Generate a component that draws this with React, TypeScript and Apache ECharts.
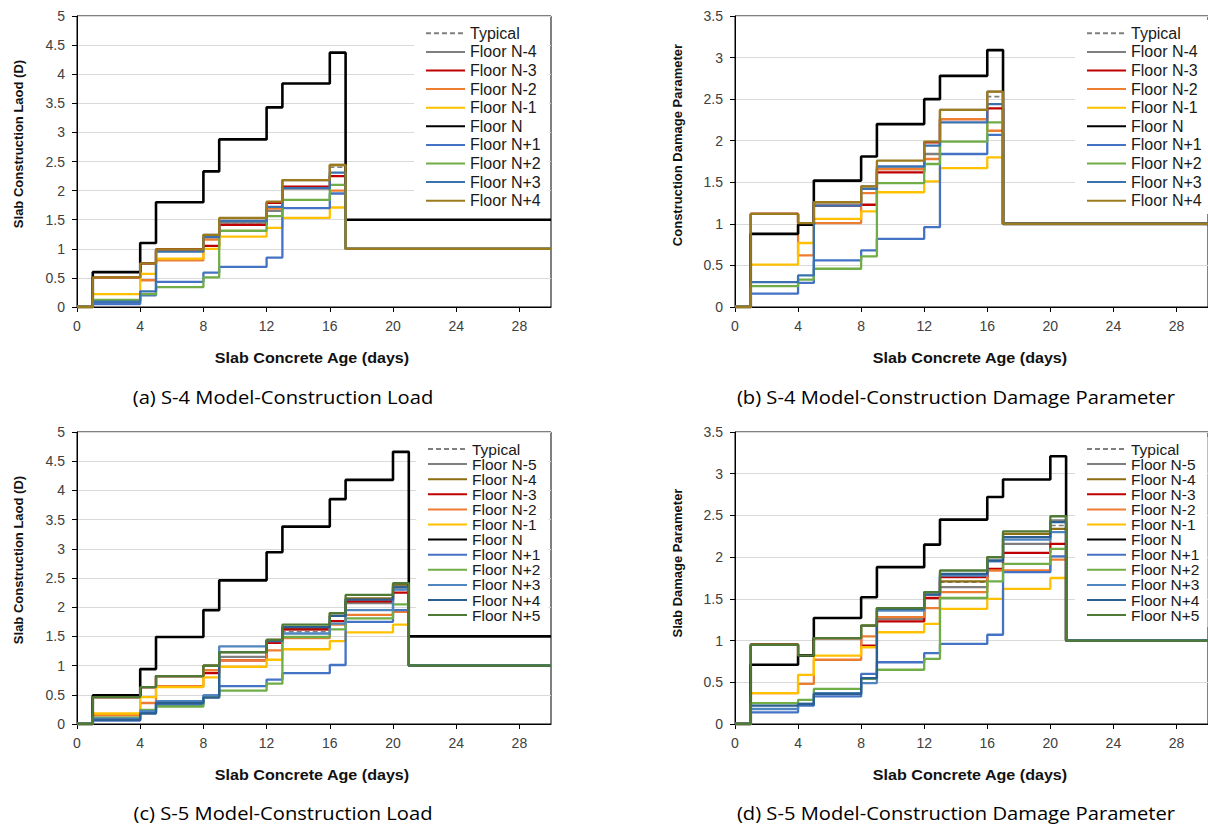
import React, { useEffect, useRef } from "react";
import * as echarts from "echarts";

// ---------- data ----------
const DAYS_S4 = [0, 1, 4, 5, 8, 9, 12, 13, 16, 17, 30];
const DAYS_S5 = [0, 1, 4, 5, 8, 9, 12, 13, 16, 17, 20, 21, 30];
const X_TICKS = [0, 4, 8, 12, 16, 20, 24, 28];

// (a) S-4 construction load
const A_NAMES = ["Typical", "Floor N-4", "Floor N-3", "Floor N-2", "Floor N-1", "Floor N", "Floor N+1", "Floor N+2", "Floor N+3", "Floor N+4"];
const A_TYPICAL = [0, 0.51, 0.75, 0.99, 1.24, 1.45, 1.65, 2.18, 2.4, 1, 1];
const A_N_M4 = [0, 0.51, 0.75, 0.99, 1.24, 1.45, 1.65, 2.18, 2.44, 1, 1];
const A_N_M3 = [0, 0.51, 0.75, 0.99, 1.05, 1.41, 1.79, 2.07, 2.25, 1, 1];
const A_N_M2 = [0, 0.51, 0.46, 0.8, 1.16, 1.48, 1.69, 2.04, 2.0, 1, 1];
const A_N_M1 = [0, 0.22, 0.57, 0.83, 1.0, 1.21, 1.36, 1.53, 1.71, 1, 1];
const A_N = [0, 0.6, 1.1, 1.8, 2.33, 2.88, 3.43, 3.84, 4.37, 1.5, 1.5];
const A_N_P1 = [0, 0.05, 0.2, 0.43, 0.59, 0.69, 0.85, 1.7, 1.95, 1, 1];
const A_N_P2 = [0, 0.12, 0.22, 0.34, 0.51, 1.31, 1.56, 1.84, 2.1, 1, 1];
const A_N_P3 = [0, 0.09, 0.27, 0.95, 1.2, 1.48, 1.72, 2.04, 2.31, 1, 1];
const A_N_P4 = [0, 0.51, 0.75, 0.99, 1.24, 1.53, 1.81, 2.18, 2.44, 1, 1];

// (b) S-4 damage parameter
const B_TYPICAL = [0, 1.12, 1.01, 1.26, 1.45, 1.66, 1.84, 2.37, 2.53, 1, 1];
const B_N_M4 = [0, 1.12, 1.01, 1.26, 1.45, 1.66, 1.84, 2.37, 2.59, 1, 1];
const B_N_M3 = [0, 1.12, 1.01, 1.22, 1.23, 1.62, 1.98, 2.26, 2.39, 1, 1];
const B_N_M2 = [0, 1.12, 0.62, 1.01, 1.37, 1.66, 1.78, 2.26, 2.12, 1, 1];
const B_N_M1 = [0, 0.51, 0.77, 1.06, 1.15, 1.38, 1.51, 1.67, 1.8, 1, 1];
const B_N = [0, 0.88, 0.99, 1.52, 1.81, 2.2, 2.5, 2.78, 3.09, 1, 1];
const B_N_P1 = [0, 0.16, 0.29, 0.56, 0.68, 0.82, 0.96, 1.84, 2.07, 1, 1];
const B_N_P2 = [0, 0.25, 0.33, 0.46, 0.61, 1.49, 1.72, 1.99, 2.22, 1, 1];
const B_N_P3 = [0, 0.3, 0.38, 1.22, 1.42, 1.69, 1.94, 2.22, 2.44, 1, 1];
const B_N_P4 = [0, 1.12, 1.01, 1.26, 1.45, 1.76, 1.99, 2.37, 2.59, 1, 1];

// (c) S-5 construction load
const C_NAMES = ["Typical", "Floor N-5", "Floor N-4", "Floor N-3", "Floor N-2", "Floor N-1", "Floor N", "Floor N+1", "Floor N+2", "Floor N+3", "Floor N+4", "Floor N+5"];
const C_TYPICAL = [0, 0.46, 0.63, 0.82, 1.0, 1.15, 1.44, 1.58, 1.85, 2.07, 2.3, 1, 1];
const C_N_M5 = [0, 0.46, 0.63, 0.82, 1.0, 1.15, 1.44, 1.62, 1.85, 2.07, 2.36, 1, 1];
const C_N_M4 = [0, 0.46, 0.63, 0.82, 1.0, 1.23, 1.44, 1.64, 1.9, 2.15, 2.39, 1, 1];
const C_N_M3 = [0, 0.46, 0.63, 0.82, 0.87, 1.09, 1.39, 1.62, 1.76, 2.1, 2.25, 1, 1];
const C_N_M2 = [0, 0.15, 0.36, 0.65, 0.92, 1.09, 1.26, 1.47, 1.7, 1.87, 1.92, 1, 1];
const C_N_M1 = [0, 0.18, 0.46, 0.63, 0.8, 0.98, 1.1, 1.28, 1.42, 1.57, 1.7, 1, 1];
const C_N = [0, 0.49, 0.94, 1.49, 1.95, 2.46, 2.94, 3.38, 3.85, 4.18, 4.66, 1.5, 1.5];
const C_N_P1 = [0, 0.06, 0.2, 0.33, 0.49, 0.65, 0.76, 0.87, 1.01, 1.75, 1.95, 1, 1];
const C_N_P2 = [0, 0.11, 0.24, 0.3, 0.46, 0.57, 0.69, 1.49, 1.62, 1.81, 2.05, 1, 1];
const C_N_P3 = [0, 0.09, 0.22, 0.39, 0.49, 1.33, 1.42, 1.55, 1.72, 1.95, 2.3, 1, 1];
const C_N_P4 = [0, 0.07, 0.18, 0.36, 0.45, 1.23, 1.43, 1.66, 1.85, 2.13, 2.34, 1, 1];
const C_N_P5 = [0, 0.46, 0.63, 0.82, 1.0, 1.23, 1.44, 1.7, 1.9, 2.21, 2.41, 1, 1];

// (d) S-5 damage parameter
const D_TYPICAL = [0, 0.95, 0.82, 1.03, 1.18, 1.26, 1.58, 1.7, 2.0, 2.16, 2.38, 1, 1];
const D_N_M5 = [0, 0.95, 0.82, 1.03, 1.18, 1.26, 1.58, 1.64, 2.0, 2.16, 2.44, 1, 1];
const D_N_M4 = [0, 0.95, 0.82, 1.03, 1.18, 1.39, 1.58, 1.71, 2.0, 2.28, 2.34, 1, 1];
const D_N_M3 = [0, 0.95, 0.82, 1.03, 0.94, 1.23, 1.51, 1.76, 1.86, 2.05, 2.16, 1, 1];
const D_N_M2 = [0, 0.37, 0.48, 0.77, 1.05, 1.28, 1.39, 1.58, 1.84, 1.84, 1.97, 1, 1];
const D_N_M1 = [0, 0.37, 0.59, 0.82, 0.92, 1.1, 1.2, 1.38, 1.5, 1.62, 1.75, 1, 1];
const D_N = [0, 0.71, 0.82, 1.27, 1.52, 1.88, 2.15, 2.45, 2.72, 2.93, 3.21, 1, 1];
const D_N_P1 = [0, 0.14, 0.22, 0.33, 0.6, 0.74, 0.85, 0.96, 1.07, 1.82, 2.01, 1, 1];
const D_N_P2 = [0, 0.25, 0.29, 0.42, 0.54, 0.65, 0.78, 1.51, 1.71, 1.92, 2.1, 1, 1];
const D_N_P3 = [0, 0.18, 0.24, 0.37, 0.49, 1.36, 1.55, 1.78, 1.95, 2.21, 2.3, 1, 1];
const D_N_P4 = [0, 0.22, 0.24, 0.36, 0.55, 1.38, 1.55, 1.8, 1.96, 2.24, 2.42, 1, 1];
const D_N_P5 = [0, 0.95, 0.82, 1.03, 1.18, 1.39, 1.58, 1.84, 2.0, 2.31, 2.49, 1, 1];

const CAPTIONS = [
  "(a) S-4 Model-Construction Load",
  "(b) S-4 Model-Construction Damage Parameter",
  "(c) S-5 Model-Construction Load",
  "(d) S-5 Model-Construction Damage Parameter",
];
const Y_TITLES = ["Slab Construction Laod (D)", "Construction Damage Parameter", "Slab Construction Laod (D)", "Slab Damage Parameter"];
const X_TITLE = "Slab Concrete Age (days)";

// ---------- styles ----------
const GRAY = "#7F7F7F";
const RED = "#C00000";
const ORANGE = "#ED7D31";
const YELLOW = "#FFC000";
const BLACK = "#000000";
const BLUE1 = "#4472C4";
const GREEN = "#70AD47";
const STEEL = "#3A72B0";
const GOLD = "#9C7A1E";
const OLIVE = "#8C6D12";
const STEEL_C = "#4F86C0";
const NAVY = "#2B5F91";
const DKGREEN = "#4F7A35";

const A_COLORS = [GRAY, GRAY, RED, ORANGE, YELLOW, BLACK, BLUE1, GREEN, STEEL, GOLD];
const C_COLORS = [GRAY, GRAY, OLIVE, RED, ORANGE, YELLOW, BLACK, BLUE1, GREEN, STEEL_C, NAVY, DKGREEN];

const FONT = "Liberation Sans, Arial, sans-serif";

type Panel = {
  key: string;
  names: string[];
  colors: string[];
  days: number[];
  values: number[][];
  ymax: number;
  grid: { left: number; top: number; width: number; height: number };
  legend: { left: number; top: number; pitch: number; font: number; gap: number };
  caption: { x: number; y: number };
  ytitle: { x: number; y: number };
  xtitle: { x: number; y: number };
};

const PANELS: Panel[] = [
  {
    key: "a",
    names: A_NAMES,
    colors: A_COLORS,
    days: DAYS_S4,
    values: [A_TYPICAL, A_N_M4, A_N_M3, A_N_M2, A_N_M1, A_N, A_N_P1, A_N_P2, A_N_P3, A_N_P4],
    ymax: 5,
    grid: { left: 77, top: 16, width: 474, height: 291 },
    legend: { left: 414, top: 20, pitch: 18.6, font: 16, gap: 0 },
    caption: { x: 283, y: 397 },
    ytitle: { x: 18, y: 144 },
    xtitle: { x: 312, y: 358 },
  },
  {
    key: "b",
    names: A_NAMES,
    colors: A_COLORS,
    days: DAYS_S4,
    values: [B_TYPICAL, B_N_M4, B_N_M3, B_N_M2, B_N_M1, B_N, B_N_P1, B_N_P2, B_N_P3, B_N_P4],
    ymax: 3.5,
    grid: { left: 735, top: 16, width: 474, height: 291 },
    legend: { left: 1075, top: 20, pitch: 18.6, font: 16, gap: 0 },
    caption: { x: 956, y: 397 },
    ytitle: { x: 677, y: 145 },
    xtitle: { x: 970, y: 358 },
  },
  {
    key: "c",
    names: C_NAMES,
    colors: C_COLORS,
    days: DAYS_S5,
    values: [C_TYPICAL, C_N_M5, C_N_M4, C_N_M3, C_N_M2, C_N_M1, C_N, C_N_P1, C_N_P2, C_N_P3, C_N_P4, C_N_P5],
    ymax: 5,
    grid: { left: 77, top: 432, width: 474, height: 292 },
    legend: { left: 416, top: 437, pitch: 15, font: 15.5, gap: -0.9 },
    caption: { x: 283, y: 813 },
    ytitle: { x: 18, y: 560 },
    xtitle: { x: 312, y: 775 },
  },
  {
    key: "d",
    names: C_NAMES,
    colors: C_COLORS,
    days: DAYS_S5,
    values: [D_TYPICAL, D_N_M5, D_N_M4, D_N_M3, D_N_M2, D_N_M1, D_N, D_N_P1, D_N_P2, D_N_P3, D_N_P4, D_N_P5],
    ymax: 3.5,
    grid: { left: 735, top: 432, width: 474, height: 292 },
    legend: { left: 1075, top: 437, pitch: 15, font: 15.5, gap: -0.9 },
    caption: { x: 956, y: 813 },
    ytitle: { x: 677, y: 563 },
    xtitle: { x: 970, y: 775 },
  },
];

function buildOption() {
  const grid: any[] = [];
  const xAxis: any[] = [];
  const yAxis: any[] = [];
  const legend: any[] = [];
  const series: any[] = [];
  const graphic: any[] = [];

  PANELS.forEach((p, i) => {
    grid.push({
      ...p.grid,
      show: true,
      borderColor: "#000",
      borderWidth: 1,
      backgroundColor: "transparent",
    });
    xAxis.push({
      type: "value",
      gridIndex: i,
      min: X_TICKS[0],
      max: 30,
      interval: X_TICKS[1] - X_TICKS[0],
      axisLine: { show: true, onZero: false, lineStyle: { color: "#000", width: 1 } },
      axisTick: { show: true, inside: false, length: 5, lineStyle: { color: "#000" } },
      axisLabel: { showMaxLabel: false, fontSize: 14, color: "#404040", margin: 12, fontFamily: FONT },
      splitLine: { show: false },
    });
    yAxis.push({
      type: "value",
      gridIndex: i,
      min: 0,
      max: p.ymax,
      interval: 0.5,
      axisLine: { show: true, lineStyle: { color: "#000", width: 1 } },
      axisTick: { show: true, inside: false, length: 5, lineStyle: { color: "#000" } },
      axisLabel: { fontSize: 14, color: "#404040", margin: 12, fontFamily: FONT },
      splitLine: { show: true, lineStyle: { color: "#D9D9D9", width: 1 } },
    });
    const ids = p.names.map((n) => p.key + "|" + n);
    legend.push({
      data: ids,
      orient: "vertical",
      left: p.legend.left,
      top: p.legend.top,
      itemWidth: 39,
      itemHeight: 12,
      itemGap: p.legend.gap,
      padding: [4, 8, 4, 11],
      backgroundColor: "#ffffff",
      selectedMode: false,
      itemStyle: { opacity: 0 },
      formatter: (name: string) => name.split("|")[1],
      textStyle: {
        fontSize: p.legend.font,
        fontFamily: FONT,
        color: "#1a1a1a",
        lineHeight: p.legend.pitch,
      },
    });
    p.values.forEach((vals, k) => {
      const isTypical = k === 0;
      const isN = p.names[k] === "Floor N";
      series.push({
        name: ids[k],
        type: "line",
        xAxisIndex: i,
        yAxisIndex: i,
        step: "end",
        symbol: "none",
        silent: true,
        data: p.days.map((d, j) => [d, vals[j]]),
        lineStyle: {
          color: p.colors[k],
          width: isN ? 2.6 : isTypical ? 1.6 : 2.3,
          type: isTypical ? [5, 3] : "solid",
        },
        itemStyle: { color: p.colors[k], opacity: 0 },
      });
    });
    graphic.push({
      type: "text",
      x: p.caption.x,
      y: p.caption.y,
      scaleX: 1.12,
      style: {
        text: CAPTIONS[i],
        font: '18px "Open Sans", "Noto Sans", sans-serif',
        fill: "#000",
        textAlign: "center",
        textVerticalAlign: "middle",
      },
    });
    graphic.push({
      type: "text",
      x: p.xtitle.x,
      y: p.xtitle.y,
      scaleX: 1.15,
      style: {
        text: X_TITLE,
        font: 'bold 14px "Liberation Sans", Arial, sans-serif',
        fill: "#111",
        textAlign: "center",
        textVerticalAlign: "middle",
      },
    });
    graphic.push({
      type: "text",
      x: p.ytitle.x,
      y: p.ytitle.y,
      rotation: Math.PI / 2,
      style: {
        text: Y_TITLES[i],
        font: 'bold 13px "Liberation Sans", Arial, sans-serif',
        fill: "#111",
        textAlign: "center",
        textVerticalAlign: "middle",
      },
    });
  });

  return {
    animation: false,
    backgroundColor: "#ffffff",
    grid,
    xAxis,
    yAxis,
    legend,
    series,
    graphic,
  };
}

export default function App() {
  const ref = useRef<HTMLDivElement>(null);
  useEffect(() => {
    if (!ref.current) return;
    const chart = echarts.init(ref.current, undefined, { renderer: "svg" });
    chart.setOption(buildOption() as any);
    return () => chart.dispose();
  }, []);
  return (
    <div
      ref={ref}
      style={{ position: "absolute", left: 0, top: 0, width: 1208, height: 827, background: "#fff" }}
    />
  );
}
